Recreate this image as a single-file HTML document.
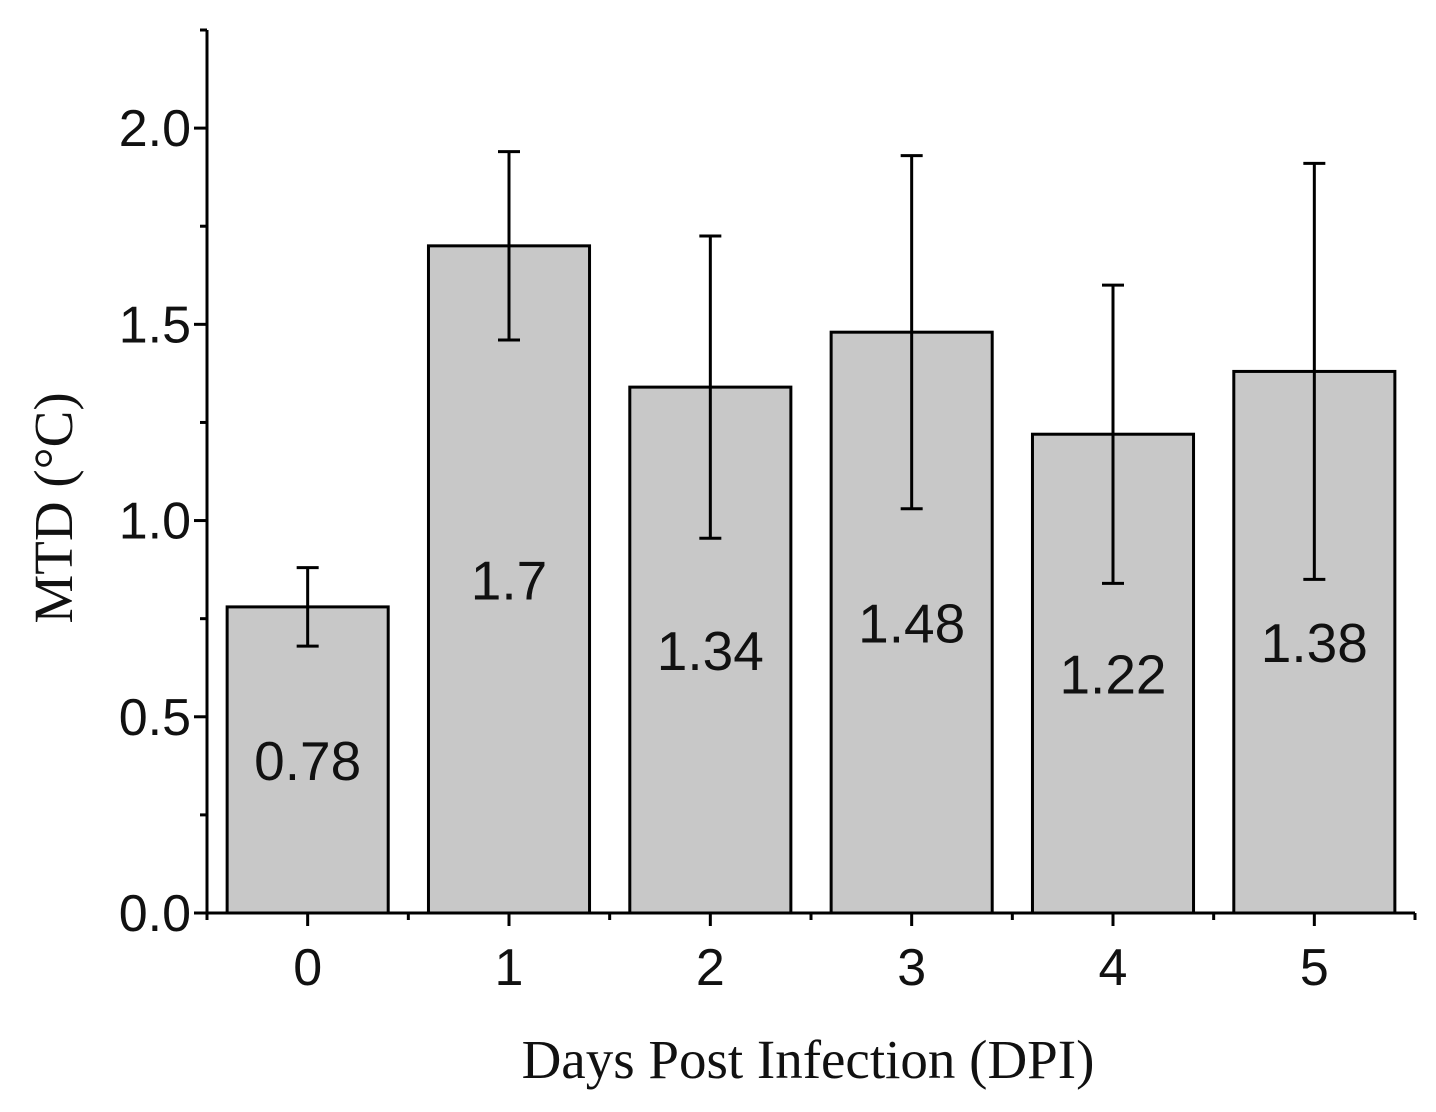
<!DOCTYPE html>
<html><head><meta charset="utf-8"><style>
html,body{margin:0;padding:0;background:#fff;}
svg{display:block;}
</style></head><body>
<svg id="chart" width="1436" height="1112" xmlns="http://www.w3.org/2000/svg"></svg>
<script>
const categories = ["0","1","2","3","4","5"];
const values = [0.78,1.7,1.34,1.48,1.22,1.38];
const errors = [0.10,0.24,0.385,0.45,0.38,0.53];
const valueLabels = ["0.78","1.7","1.34","1.48","1.22","1.38"];
const yTicks = [0.0,0.5,1.0,1.5,2.0];
const yTickLabels = ["0.0","0.5","1.0","1.5","2.0"];

const NS="http://www.w3.org/2000/svg";
const svg=document.getElementById('chart');
const X0=207, X1=1415, Y0=913, YTOP=30, YMAX=2.25;
const step=(X1-X0)/categories.length;
function x(i){return X0+step*(i+0.5);}
function y(v){return Y0-(v/YMAX)*(Y0-YTOP);}
function mk(tag,attrs,parent){const e=document.createElementNS(NS,tag);for(const k in attrs)e.setAttribute(k,attrs[k]);(parent||svg).appendChild(e);return e;}
const sans='"Liberation Sans", Arial, sans-serif', serif='"Liberation Serif", serif';

values.forEach((v,i)=>{
  const w=step*0.8;
  const b=mk('rect',{x:x(i)-w/2,y:y(v),width:w,height:Y0-y(v),fill:'#c8c8c8',stroke:'#000','stroke-width':3});
  
  
  const e=errors[i];
  const g=mk('g',{stroke:'#000','stroke-width':3});
  
  
  mk('line',{x1:x(i),x2:x(i),y1:y(v+e),y2:y(v-e)},g);
  mk('line',{x1:x(i)-11,x2:x(i)+11,y1:y(v+e),y2:y(v+e)},g);
  mk('line',{x1:x(i)-11,x2:x(i)+11,y1:y(v-e),y2:y(v-e)},g);
  const t=mk('text',{x:x(i),y:y(v/2)+20,'text-anchor':'middle','font-family':sans,'font-size':55,fill:'#111'});
  t.textContent=valueLabels[i];
  
  
});

const ax=mk('g',{stroke:'#000','stroke-width':3});


mk('line',{x1:X0,x2:X0,y1:YTOP,y2:Y0+1.5},ax);
mk('line',{x1:X0-1.5,x2:X1,y1:Y0,y2:Y0},ax);
for(let v=0;v<=YMAX+1e-9;v+=0.25){
  const major=Math.abs(v*2-Math.round(v*2))<1e-9;
  mk('line',{x1:X0-(major?13:7),x2:X0,y1:y(v),y2:y(v)},ax);
}
for(let i=0;i<=categories.length;i++){
  mk('line',{x1:X0+step*i,x2:X0+step*i,y1:Y0,y2:Y0+7},ax);
}
categories.forEach((c,i)=>{
  mk('line',{x1:x(i),x2:x(i),y1:Y0,y2:Y0+13},ax);
  const t=mk('text',{x:x(i),y:Y0+72,'text-anchor':'middle','font-family':sans,'font-size':52,fill:'#111'});
  t.textContent=c;
  
  
});
yTicks.forEach((v,i)=>{
  const t=mk('text',{x:X0-16,y:y(v)+18,'text-anchor':'end','font-family':sans,'font-size':52,fill:'#111'});
  t.textContent=yTickLabels[i];
  
  
});
const xt=mk('text',{x:808,y:1078,'text-anchor':'middle','font-family':serif,'font-size':55,fill:'#111'});
xt.textContent='Days Post Infection (DPI)';


const yt=mk('text',{x:0,y:0,'text-anchor':'middle','font-family':serif,'font-size':55,fill:'#111',transform:'translate(72,508) rotate(-90)'});
yt.textContent='MTD (°C)';


</script>
</body></html>
